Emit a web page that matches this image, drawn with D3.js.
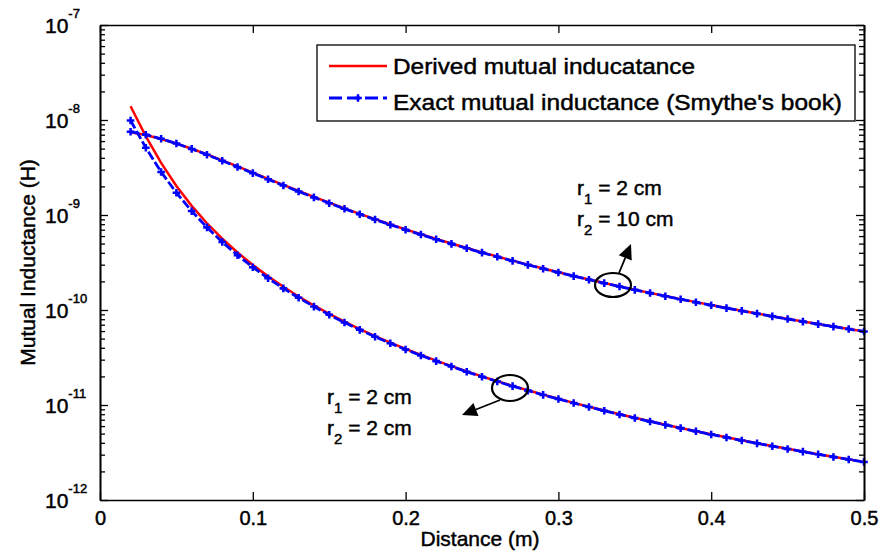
<!DOCTYPE html>
<html>
<head>
<meta charset="utf-8">
<script src="https://cdn.jsdelivr.net/npm/d3@7/dist/d3.min.js"></script>
<style>
  html, body { margin: 0; padding: 0; background: #fff; }
  svg { display: block; font-family: "Liberation Sans", Arial, Helvetica, sans-serif; }
  svg text { stroke: #000; stroke-width: 0.45px; }
</style>
</head>
<body>
<svg id="chart" width="881" height="556"></svg>
<script>
// ---------------- data ----------------
const distance = [0.02,0.03,0.04,0.05,0.06,0.07,0.08,0.09,0.10,0.11,0.12,0.13,0.14,0.15,0.16,0.17,0.18,0.19,0.20,0.21,0.22,0.23,0.24,0.25,0.26,0.27,0.28,0.29,0.30,0.31,0.32,0.33,0.34,0.35,0.36,0.37,0.38,0.39,0.40,0.41,0.42,0.43,0.44,0.45,0.46,0.47,0.48,0.49,0.50];

// r1 = 2 cm, r2 = 10 cm
const derivedR2_10 = [7.445e-9,6.939e-9,6.320e-9,5.650e-9,4.979e-9,4.341e-9,3.760e-9,3.243e-9,2.792e-9,2.403e-9,2.072e-9,1.790e-9,1.5505e-9,1.3477e-9,1.1755e-9,1.0292e-9,9.044e-10,7.977e-10,7.062e-10,6.275e-10,5.595e-10,5.005e-10,4.4925e-10,4.045e-10,3.653e-10,3.308e-10,3.004e-10,2.7354e-10,2.497e-10,2.2847e-10,2.0954e-10,1.9259e-10,1.7739e-10,1.6371e-10,1.5138e-10,1.4024e-10,1.3015e-10,1.2099e-10,1.1265e-10,1.0505e-10,9.812e-11,9.177e-11,8.595e-11,8.061e-11,7.569e-11,7.117e-11,6.699e-11,6.313e-11,5.956e-11];
const exactR2_10 = [7.527e-9,6.981e-9,6.339e-9,5.650e-9,4.964e-9,4.315e-9,3.726e-9,3.207e-9,2.760e-9,2.374e-9,2.047e-9,1.769e-9,1.532e-9,1.332e-9,1.1626e-9,1.0179e-9,8.954e-10,7.901e-10,6.998e-10,6.222e-10,5.550e-10,4.967e-10,4.461e-10,4.018e-10,3.629e-10,3.287e-10,2.986e-10,2.720e-10,2.484e-10,2.2733e-10,2.0853e-10,1.9170e-10,1.7661e-10,1.6302e-10,1.5077e-10,1.3971e-10,1.2968e-10,1.2058e-10,1.1228e-10,1.0471e-10,9.783e-11,9.151e-11,8.572e-11,8.040e-11,7.550e-11,7.100e-11,6.684e-11,6.299e-11,5.943e-11];

// r1 = 2 cm, r2 = 2 cm
const derivedR2_2 = [1.3957e-8,6.737e-9,3.531e-9,2.0222e-9,1.2483e-9,8.185e-10,5.632e-10,4.030e-10,2.9776e-10,2.2597e-10,1.7540e-10,1.3879e-10,1.1165e-10,9.113e-11,7.533e-11,6.297e-11,5.316e-11,4.529e-11,3.889e-11,3.364e-11,2.9295e-11,2.5664e-11,2.2609e-11,2.0019e-11,1.7810e-11,1.5913e-11,1.4277e-11,1.2857e-11,1.1619e-11,1.0535e-11,9.581e-12,8.739e-12,7.993e-12,7.330e-12,6.737e-12,6.207e-12,5.731e-12,5.303e-12,4.916e-12,4.566e-12,4.248e-12,3.959e-12,3.696e-12,3.455e-12,3.235e-12,3.0335e-12,2.848e-12,2.6776e-12,2.5204e-12];
const exactR2_2 = [9.88e-9,5.10e-9,2.84e-9,1.714e-9,1.099e-9,7.41e-10,5.20e-10,3.775e-10,2.821e-10,2.160e-10,1.689e-10,1.3448e-10,1.0863e-10,8.898e-11,7.377e-11,6.182e-11,5.229e-11,4.462e-11,3.838e-11,3.324e-11,2.897e-11,2.541e-11,2.240e-11,1.985e-11,1.767e-11,1.5797e-11,1.418e-11,1.2776e-11,1.1550e-11,1.0477e-11,9.531e-12,8.696e-12,7.956e-12,7.298e-12,6.709e-12,6.183e-12,5.710e-12,5.284e-12,4.900e-12,4.551e-12,4.235e-12,3.948e-12,3.686e-12,3.446e-12,3.227e-12,3.026e-12,2.841e-12,2.672e-12,2.515e-12];

const xTickValues = [0, 0.1, 0.2, 0.3, 0.4, 0.5];
const xTickLabels = ["0", "0.1", "0.2", "0.3", "0.4", "0.5"];
const yTickExponents = [-7, -8, -9, -10, -11, -12];
const legendLabels = ["Derived mutual inducatance", "Exact mutual inductance (Smythe's book)"];
const xLabel = "Distance (m)";
const yLabel = "Mutual Inductance (H)";

// ---------------- layout ----------------
const L = 100, R = 864, T = 25, B = 500;
const svg = d3.select("#chart");
const x = d3.scaleLinear().domain([0, 0.5]).range([L, R]);
const y = d3.scaleLog().domain([1e-12, 1e-7]).range([B, T]);

const majorY = yTickExponents.map(e => Math.pow(10, e));
const minorY = [];
for (let e = -12; e < -7; e++) for (let m = 2; m <= 9; m++) minorY.push(m * Math.pow(10, e));

// ---------------- lines ----------------
const line = d3.line().x((d, i) => x(distance[i])).y(d => y(d));

function drawDerived(vals) {
  svg.append("path").datum(vals).attr("d", line)
    .attr("fill", "none").attr("stroke", "#ff0000").attr("stroke-width", 2.5);
}
function drawExact(vals) {
  svg.append("path").datum(vals).attr("d", line)
    .attr("fill", "none").attr("stroke", "#0000ff").attr("stroke-width", 2.8)
    .attr("stroke-dasharray", "9,3");
  svg.append("g").selectAll("path").data(vals).join("path")
    .attr("transform", (d, i) => `translate(${x(distance[i])},${y(d)})`)
    .attr("d", d3.symbol(d3.symbolCross, 32))
    .attr("fill", "#0000ff");
}
drawDerived(derivedR2_10);
drawDerived(derivedR2_2);
drawExact(exactR2_10);
drawExact(exactR2_2);

// ---------------- axes ----------------
const ax = svg.append("g").attr("class", "axes");
function styleAxis(g) {
  g.selectAll("path.domain").attr("stroke", "#000").attr("stroke-width", 1.6);
  g.selectAll(".tick line").attr("stroke", "#000").attr("stroke-width", 1.3);
}
// bottom
const gBottom = ax.append("g").attr("transform", `translate(0,${B})`)
  .call(d3.axisBottom(x).tickValues(xTickValues).tickSizeInner(-8).tickSizeOuter(0)
    .tickPadding(11).tickFormat((d, i) => xTickLabels[i]));
styleAxis(gBottom);
gBottom.selectAll(".tick text").attr("font-size", 20).attr("fill", "#000")
  .attr("font-family", "'Liberation Sans', Arial, sans-serif");
// top
const gTop = ax.append("g").attr("transform", `translate(0,${T})`)
  .call(d3.axisTop(x).tickValues(xTickValues).tickSizeInner(-8).tickSizeOuter(0).tickFormat(""));
styleAxis(gTop);
// left
const gLeft = ax.append("g").attr("transform", `translate(${L},0)`)
  .call(d3.axisLeft(y).tickValues(majorY).tickSizeInner(-8).tickSizeOuter(0).tickFormat(""));
styleAxis(gLeft);
const gLeftMinor = ax.append("g").attr("transform", `translate(${L},0)`)
  .call(d3.axisLeft(y).tickValues(minorY).tickSizeInner(-5).tickSizeOuter(0).tickFormat(""));
styleAxis(gLeftMinor);
// right
const gRight = ax.append("g").attr("transform", `translate(${R},0)`)
  .call(d3.axisRight(y).tickValues(majorY).tickSizeInner(-8).tickSizeOuter(0).tickFormat(""));
styleAxis(gRight);
const gRightMinor = ax.append("g").attr("transform", `translate(${R},0)`)
  .call(d3.axisRight(y).tickValues(minorY).tickSizeInner(-5).tickSizeOuter(0).tickFormat(""));
styleAxis(gRightMinor);

// y tick labels with superscripts
const yl = svg.append("g").attr("font-size", 21).attr("fill", "#000");
yTickExponents.forEach(e => {
  const ty = y(Math.pow(10, e));
  const t = yl.append("text").attr("x", 45).attr("y", ty + 8);
  t.append("tspan").text("10");
  t.append("tspan").attr("font-size", 13).attr("dy", -15).text(String(e));
});

// axis titles
svg.append("text").attr("x", (L + R) / 2 - 2).attr("y", 546).attr("text-anchor", "middle")
  .attr("font-size", 21).attr("fill", "#000").text(xLabel);
svg.append("text").attr("transform", `translate(35,${(T + B) / 2}) rotate(-90)`)
  .attr("text-anchor", "middle").attr("font-size", 21).attr("fill", "#000").text(yLabel);

// ---------------- legend ----------------
const lg = svg.append("g");
lg.append("rect").attr("x", 317).attr("y", 45).attr("width", 538).attr("height", 76)
  .attr("fill", "#fff").attr("stroke", "#000").attr("stroke-width", 1.3);
lg.append("line").attr("x1", 329).attr("x2", 387).attr("y1", 66).attr("y2", 66)
  .attr("stroke", "#ff0000").attr("stroke-width", 2.5);
lg.append("line").attr("x1", 329).attr("x2", 387).attr("y1", 98).attr("y2", 98)
  .attr("stroke", "#0000ff").attr("stroke-width", 2.8).attr("stroke-dasharray", "13,5");
lg.append("path").attr("transform", "translate(358,98)")
  .attr("d", d3.symbol(d3.symbolCross, 32)).attr("fill", "#0000ff");
lg.append("text").attr("x", 393).attr("y", 74).attr("font-size", 22).attr("fill", "#000")
  .attr("textLength", 302).attr("lengthAdjust", "spacingAndGlyphs").text(legendLabels[0]);
lg.append("text").attr("x", 393).attr("y", 110).attr("font-size", 22).attr("fill", "#000")
  .attr("textLength", 449).attr("lengthAdjust", "spacingAndGlyphs").text(legendLabels[1]);

// ---------------- annotations ----------------
function radiusLabel(x0, y0, sub, val) {
  const t = svg.append("text").attr("x", x0).attr("y", y0).attr("font-size", 21).attr("fill", "#000");
  t.append("tspan").text("r");
  t.append("tspan").attr("font-size", 15).attr("dy", 9).text(sub);
  t.append("tspan").attr("dy", -9).text(" = " + val);
}
radiusLabel(577, 195, "1", "2 cm");
radiusLabel(577, 226, "2", "10 cm");
radiusLabel(327, 404, "1", "2 cm");
radiusLabel(327, 435, "2", "2 cm");

function ellipse(cx, cy, rx, ry) {
  svg.append("ellipse").attr("cx", cx).attr("cy", cy).attr("rx", rx).attr("ry", ry)
    .attr("fill", "none").attr("stroke", "#000").attr("stroke-width", 2.2);
}
function arrow(x1, y1, x2, y2) {
  const a = Math.atan2(y2 - y1, x2 - x1), len = 15, w = 7;
  const bx = x2 - len * Math.cos(a), by = y2 - len * Math.sin(a);
  svg.append("line").attr("x1", x1).attr("y1", y1).attr("x2", bx).attr("y2", by)
    .attr("stroke", "#000").attr("stroke-width", 1.8);
  const px = -Math.sin(a) * w, py = Math.cos(a) * w;
  svg.append("path").attr("d", `M${x2},${y2}L${bx + px},${by + py}L${bx - px},${by - py}Z`).attr("fill", "#000");
}
ellipse(613, 285, 18, 12);
arrow(619, 273, 631, 244);
ellipse(510, 388, 18, 13);
arrow(500, 400, 462, 415);
</script>
</body>
</html>
